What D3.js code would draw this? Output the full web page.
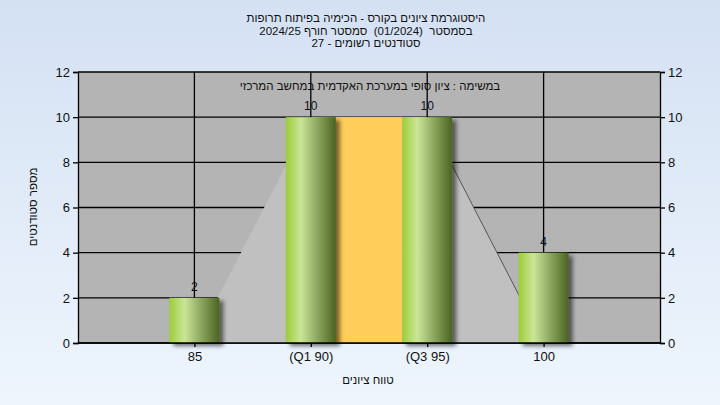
<!DOCTYPE html>
<html>
<head>
<meta charset="utf-8">
<script src="https://cdn.jsdelivr.net/npm/d3@7"></script>
<style>
html,body{margin:0;padding:0;}
svg{display:block;font-family:"Liberation Sans",Arial,sans-serif;}
.heb{white-space:pre;}
</style>
</head>
<body>
<svg id="chart" width="720" height="405"></svg>
<script>
const categories = ["85", "(Q1 90)", "(Q3 95)", "100"];
const counts = [2, 10, 10, 4];
const curveValues = [0, 10, 10, 0];
const boxRange = [1, 2];        // IQR box between Q1 and Q3 categories
const boxTop = 10;
const yTicks = [0, 2, 4, 6, 8, 10, 12];
const titleLines = [
  "היסטוגרמת ציונים בקורס - הכימיה בפיתוח תרופות",
  "בסמסטר  (01/2024)  סמסטר חורף 2024/25",
  "סטודנטים רשומים - 27"
];
const subtitle = "במשימה : ציון סופי במערכת האקדמית במחשב המרכזי";
const xTitle = "טווח ציונים";
const yTitle = "מספר סטודנטים";

const W = 720, H = 405;
const m = {left: 78, right: 60, top: 72, bottom: 62};
const svg = d3.select("#chart");
const defs = svg.append("defs");

const bg = defs.append("linearGradient").attr("id","bg").attr("x1",0).attr("y1",0).attr("x2",0).attr("y2",1);
bg.append("stop").attr("offset","0%").attr("stop-color","#d4e1f3");
bg.append("stop").attr("offset","100%").attr("stop-color","#eef5fd");

const bar = defs.append("linearGradient").attr("id","bar").attr("x1",0).attr("y1",0).attr("x2",1).attr("y2",0);
[["0%","#9ccd38"],["30%","#cbe597"],["60%","#93ad66"],["100%","#4a6420"]].forEach(s=>
  bar.append("stop").attr("offset",s[0]).attr("stop-color",s[1]));

const sh = defs.append("filter").attr("id","shadow").attr("x","-20%").attr("y","-20%").attr("width","150%").attr("height","150%");
sh.append("feDropShadow").attr("dx",4).attr("dy",3).attr("stdDeviation",2).attr("flood-color","#000").attr("flood-opacity",0.55);

svg.append("rect").attr("width",W).attr("height",H).attr("fill","url(#bg)");

const x = d3.scalePoint().domain(categories).range([m.left, W - m.right]).padding(1);
const y = d3.scaleLinear().domain([0, 12]).range([H - m.bottom, m.top]);
const bw = 50;

// plot background
svg.append("rect").attr("x", m.left).attr("y", m.top)
  .attr("width", W - m.right - m.left).attr("height", H - m.bottom - m.top).attr("fill","#b4b4b4");

// grid
svg.append("g").selectAll("line").data(yTicks).join("line")
  .attr("x1", m.left).attr("x2", W - m.right).attr("y1", d=>y(d)).attr("y2", d=>y(d))
  .attr("stroke","#000").attr("stroke-width",1.3);
svg.append("g").selectAll("line").data(categories).join("line")
  .attr("x1", d=>x(d)).attr("x2", d=>x(d)).attr("y1", m.top).attr("y2", y(0))
  .attr("stroke","#000").attr("stroke-width",1.3);

// curve area
const pts = categories.map((c,i)=>[x(c), y(curveValues[i])]);
svg.append("path").datum(pts)
  .attr("d", d3.area().x(d=>d[0]).y0(y(0)).y1(d=>d[1]))
  .attr("fill","#c0c0c0");
svg.append("path").datum(pts.slice(2))
  .attr("d", d3.line())
  .attr("fill","none").attr("stroke","#555").attr("stroke-width",1);

// IQR box
svg.append("rect")
  .attr("x", x(categories[boxRange[0]]) + bw/2)
  .attr("width", x(categories[boxRange[1]]) - x(categories[boxRange[0]]) - bw)
  .attr("y", y(boxTop)).attr("height", y(0) - y(boxTop))
  .attr("fill","#fecd5a");

// bars
svg.append("g").selectAll("rect").data(counts).join("rect")
  .attr("x",(d,i)=>x(categories[i]) - bw/2).attr("width", bw)
  .attr("y", d=>y(d)).attr("height", d=>y(0)-y(d))
  .attr("fill","url(#bar)").attr("filter","url(#shadow)");

// value labels
svg.append("g").selectAll("text").data(counts).join("text")
  .attr("x",(d,i)=>x(categories[i])).attr("y", d=>y(d)-7)
  .attr("text-anchor","middle").attr("font-size",12).attr("fill","#111").text(d=>d);

// axes
const yl = svg.append("g").attr("transform",`translate(${m.left},0)`)
  .call(d3.axisLeft(y).tickValues(yTicks).tickSize(5).tickPadding(3));
const yr = svg.append("g").attr("transform",`translate(${W - m.right},0)`)
  .call(d3.axisRight(y).tickValues(yTicks).tickSize(5).tickPadding(3));
const xb = svg.append("g").attr("transform",`translate(0,${y(0)})`)
  .call(d3.axisBottom(x).tickSize(4).tickPadding(5));
[yl, yr, xb].forEach(g=>{
  g.select(".domain").attr("stroke","#000").attr("stroke-width",1.3);
  g.selectAll(".tick line").attr("stroke","#000").attr("stroke-width",1.3);
  g.selectAll(".tick text").attr("font-size",13).attr("fill","#111")
    .attr("font-family",'"Liberation Sans",Arial,sans-serif');
});
xb.select(".domain").attr("d", `M${m.left},0H${W - m.right}`);

// titles
svg.append("g").selectAll("text").data(titleLines).join("text")
  .attr("class","heb")
  .attr("x", 366).attr("y",(d,i)=>22 + i*12.5)
  .attr("text-anchor","middle").attr("direction","rtl").attr("font-size",11.5).attr("fill","#111").text(d=>d);
svg.append("text").attr("class","heb").attr("x", 370).attr("y", 90).attr("text-anchor","middle").attr("direction","rtl")
  .attr("font-size",11.5).attr("fill","#111").text(subtitle);
svg.append("text").attr("class","heb").attr("x", 368).attr("y", 384).attr("text-anchor","middle").attr("direction","rtl")
  .attr("font-size",11.5).attr("fill","#111").text(xTitle);
svg.append("text").attr("class","heb").attr("transform","translate(37,207) rotate(-90)").attr("text-anchor","middle").attr("direction","rtl")
  .attr("font-size",11.5).attr("fill","#111").text(yTitle);
</script>
</body>
</html>
